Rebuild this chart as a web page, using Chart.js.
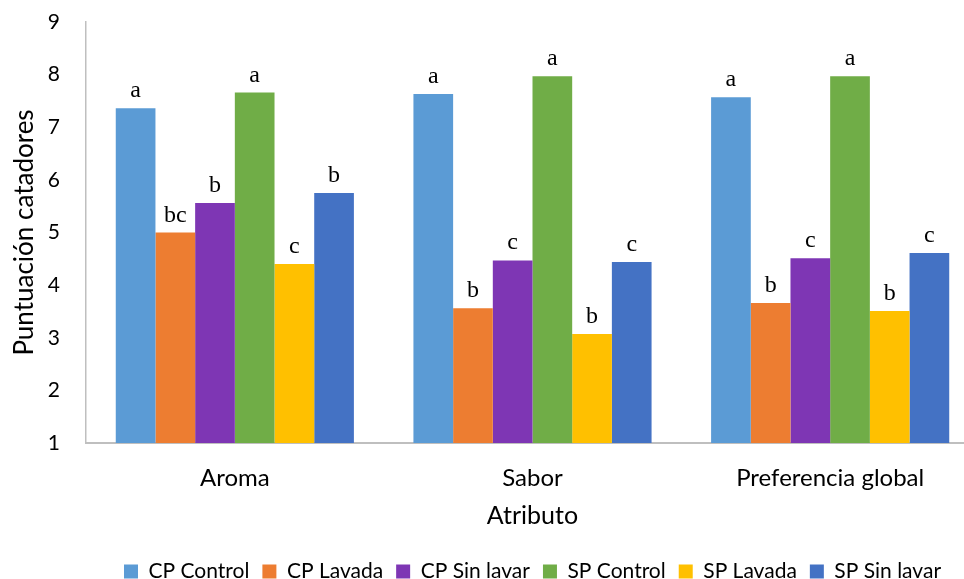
<!DOCTYPE html>
<html>
<head>
<meta charset="utf-8">
<script src="https://cdn.jsdelivr.net/npm/chart.js@4"></script>
<style>
  body { margin: 0; background: #fff; }
  #wrap { width: 964px; height: 579px; overflow: hidden; position: relative; }
</style>
</head>
<body>
<div id="wrap"><canvas id="chart" width="1050" height="600"></canvas></div>
<script>
// categories on the x axis
const categories = ['Aroma', 'Sabor', 'Preferencia global'];

// series names (legend)
const seriesNames = ['CP Control', 'CP Lavada', 'CP Sin lavar', 'SP Control', 'SP Lavada', 'SP Sin lavar'];

// mean panel scores
const cpControl = [7.36, 7.63, 7.57];
const cpLavada = [5.0, 3.56, 3.66];
const cpSinLavar = [5.56, 4.47, 4.51];
const spControl = [7.66, 7.97, 7.97];
const spLavada = [4.40, 3.07, 3.51];
const spSinLavar = [5.75, 4.44, 4.61];

// significance letters above each bar
const cpControlLetters = ['a', 'a', 'a'];
const cpLavadaLetters = ['bc', 'b', 'b'];
const cpSinLavarLetters = ['b', 'c', 'c'];
const spControlLetters = ['a', 'a', 'a'];
const spLavadaLetters = ['c', 'b', 'b'];
const spSinLavarLetters = ['b', 'c', 'c'];

// y axis
const yMin = 1;
const yMax = 9;
const yStep = 1;

const colors = ['#5B9BD5', '#ED7D31', '#7E36B4', '#70AD47', '#FFC000', '#4472C4'];

const values = [cpControl, cpLavada, cpSinLavar, spControl, spLavada, spSinLavar];
const letters = [cpControlLetters, cpLavadaLetters, cpSinLavarLetters, spControlLetters, spLavadaLetters, spSinLavarLetters];

const datasets = seriesNames.map((name, i) => ({
    label: name,
    data: values[i],
    letters: letters[i],
    backgroundColor: colors[i],
    borderWidth: 0,
    barPercentage: 1,
    categoryPercentage: 0.8
}));

// draws the letters a, b, c above the bars
const letterLabels = {
    id: 'letterLabels',
    afterDatasetsDraw(chart) {
        const {ctx} = chart;
        ctx.save();
        ctx.font = '24px "Liberation Serif"';
        ctx.fillStyle = '#000';
        ctx.textAlign = 'center';
        ctx.textBaseline = 'alphabetic';
        chart.data.datasets.forEach((ds, i) => {
            chart.getDatasetMeta(i).data.forEach((bar, j) => {
                ctx.fillText(ds.letters[j], bar.x, bar.y - 11);
            });
        });
        ctx.restore();
    }
};

const font = (size) => ({ family: 'Lato', size, lineHeight: 1.2 });

new Chart(document.getElementById('chart'), {
    type: 'bar',
    data: { labels: categories, datasets },
    plugins: [letterLabels],
    options: {
        responsive: false,
        animation: false,
        layout: { padding: { top: 22, right: 71, bottom: 8, left: 0 } },
        scales: {
            x: {
                grid: { display: false, drawTicks: false },
                border: { color: '#BFBFBF', width: 2 },
                ticks: { color: '#000', font: font(24), padding: 21 },
                title: { display: true, text: 'Atributo', color: '#000', font: font(25), padding: { top: 4, bottom: 17 } },
                afterFit: (scale) => { scale.height = 105; }
            },
            y: {
                min: yMin,
                max: yMax,
                ticks: { stepSize: yStep, color: '#000', font: font(21), padding: 26 },
                grid: { display: false, drawTicks: false },
                border: { color: '#BFBFBF', width: 1.5 },
                title: { display: true, text: 'Puntuación catadores', color: '#000', font: font(26), padding: { top: 9, bottom: 0 } },
                afterFit: (scale) => {
                    scale.width = 86;
                    // tick padding should only push labels sideways, not shrink the plot
                    scale.paddingTop = 12;
                    scale.paddingBottom = 12;
                }
            }
        },
        plugins: {
            legend: {
                position: 'bottom',
                fullSize: false,
                labels: {
                    color: '#000',
                    font: { family: 'Lato', size: 21 },
                    boxWidth: 14,
                    boxHeight: 14,
                    padding: 13
                }
            },
            tooltip: { enabled: false }
        }
    }
});
</script>
</body>
</html>
